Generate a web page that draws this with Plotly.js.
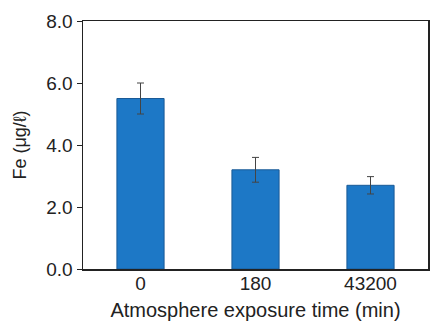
<!DOCTYPE html>
<html>
<head>
<meta charset="utf-8">
<script src="https://cdn.plot.ly/plotly-3.0.1.min.js"></script>
<style>
html,body{margin:0;padding:0;background:#fff;}
#chart{width:430px;height:325px;}
</style>
</head>
<body>
<div id="chart"></div>
<script>
const categories = ['0', '180', '43200'];
const feValues = [5.5, 3.2, 2.7];
const feErrors = [0.5, 0.4, 0.28];
const yTickVals = [0, 2, 4, 6, 8];
const yTickText = ['0.0', '2.0', '4.0', '6.0', '8.0'];
const xTitle = 'Atmosphere exposure time (min)';
const yTitle = 'Fe (μg/ℓ)';

const trace = {
  type: 'bar',
  x: categories,
  y: feValues,
  marker: {color: '#1d78c6', line: {color: '#1a5a96', width: 1}},
  error_y: {type: 'data', array: feErrors, visible: true, color: '#444', thickness: 1, width: 3.5},
  hoverinfo: 'skip'
};

const font = "'Liberation Sans', Arial, sans-serif";
const layout = {
  width: 430, height: 325,
  margin: {l: 83, r: 2, t: 21, b: 56},
  paper_bgcolor: '#fff', plot_bgcolor: '#fff',
  showlegend: false,
  bargap: 0.59,
  font: {family: font, color: '#222', size: 19},
  xaxis: {
    type: 'category',
    showline: true, linecolor: '#222', linewidth: 1.5, mirror: true,
    ticks: '', showgrid: false, zeroline: false,
    ticklabelstandoff: -3,
    tickfont: {size: 19, color: '#222'},
    title: {text: xTitle, font: {size: 20, color: '#222'}, standoff: 9}
  },
  yaxis: {
    range: [0, 8],
    showline: true, linecolor: '#222', linewidth: 1.5, mirror: true,
    ticks: 'outside', ticklen: 5, tickcolor: '#222', tickwidth: 1,
    showgrid: false, zeroline: false,
    tickvals: yTickVals, ticktext: yTickText,
    tickfont: {size: 19, color: '#222'},
    title: {text: yTitle, font: {size: 18, color: '#222'}, standoff: 15}
  }
};

Plotly.newPlot('chart', [trace], layout, {staticPlot: true, displayModeBar: false});
</script>
</body>
</html>
